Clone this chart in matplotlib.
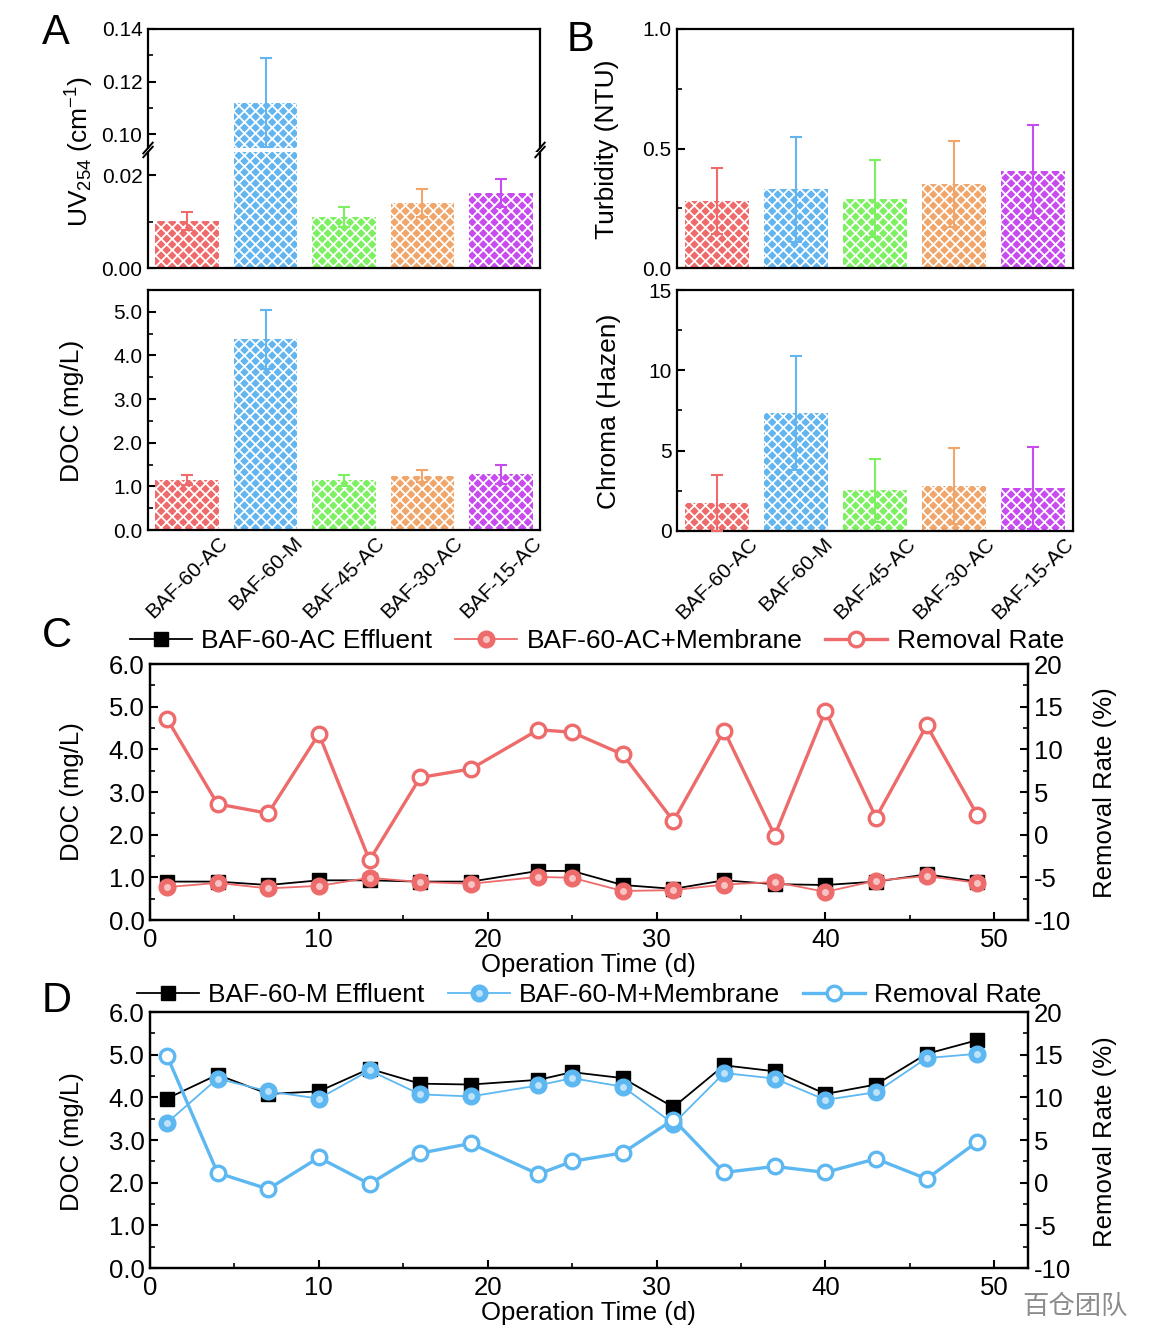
import matplotlib
matplotlib.use('Agg')
from matplotlib import pyplot as plt
from matplotlib.ticker import MultipleLocator, FormatStrFormatter
from matplotlib.legend_handler import HandlerTuple

plt.rcParams['font.family'] = ['Liberation Sans', 'DejaVu Sans']
plt.rcParams['mathtext.fontset'] = 'custom'
plt.rcParams['mathtext.rm'] = 'Liberation Sans'
plt.rcParams['mathtext.it'] = 'Liberation Sans:italic'
plt.rcParams['mathtext.default'] = 'regular'
plt.rcParams['axes.unicode_minus'] = False
plt.rcParams['hatch.linewidth'] = 1.3
plt.rcParams['axes.linewidth'] = 1.6

# ---- data ----
groups = ['BAF-60-AC', 'BAF-60-M', 'BAF-45-AC', 'BAF-30-AC', 'BAF-15-AC']
bar_colors = ['#EF6A6A', '#63B5EF', '#7CF061', '#F0A66A', '#C84BF0']

uv254 = [0.0101, 0.112, 0.011, 0.014, 0.0161]
uv254_err = [0.0019, 0.017, 0.0021, 0.003, 0.003]
doc = [1.14, 4.37, 1.14, 1.23, 1.28]
doc_err = [0.12, 0.68, 0.13, 0.14, 0.22]
turbidity = [0.28, 0.33, 0.29, 0.35, 0.405]
turbidity_err = [0.137, 0.22, 0.16, 0.18, 0.195]
chroma = [1.73, 7.35, 2.53, 2.78, 2.65]
chroma_err = [1.73, 3.55, 1.97, 2.37, 2.55]

days = [1, 4, 7, 10, 13, 16, 19, 23, 25, 28, 31, 34, 37, 40, 43, 46, 49]
ac_effluent = [0.90, 0.90, 0.82, 0.93, 0.93, 0.90, 0.90, 1.15, 1.15, 0.82, 0.73, 0.93, 0.84, 0.82, 0.90, 1.07, 0.90]
ac_membrane = [0.77, 0.87, 0.74, 0.80, 0.99, 0.89, 0.85, 1.01, 0.99, 0.68, 0.70, 0.83, 0.89, 0.66, 0.92, 1.03, 0.87]
ac_removal = [13.6, 3.6, 2.5, 11.8, -3.0, 6.7, 7.7, 12.3, 12.0, 9.4, 1.6, 12.2, -0.1, 14.5, 2.0, 12.8, 2.3]
m_effluent = [3.97, 4.53, 4.08, 4.14, 4.67, 4.32, 4.30, 4.41, 4.59, 4.45, 3.77, 4.75, 4.61, 4.08, 4.30, 5.02, 5.34]
m_membrane = [3.40, 4.44, 4.14, 3.97, 4.63, 4.07, 4.02, 4.28, 4.45, 4.25, 3.38, 4.57, 4.44, 3.94, 4.12, 4.92, 5.02]
m_removal = [14.9, 1.15, -0.75, 2.95, -0.15, 3.45, 4.6, 1.0, 2.5, 3.5, 7.4, 1.2, 1.9, 1.2, 2.8, 0.45, 4.8]

red = '#EE6B6B'
blue = '#5DB8F2'

W, H = 1158, 1338
fig = plt.figure(figsize=(W / 100, H / 100), dpi=100)


def box(x0, y0, x1, y1):
    return fig.add_axes([x0 / W, 1 - y1 / H, (x1 - x0) / W, (y1 - y0) / H])


def ftext(x, y, s, **kw):
    fig.text(x / W, 1 - y / H, s, ha='center', va='center', **kw)


def yticks(ax, major, minor, fmt, size):
    ax.yaxis.set_major_locator(MultipleLocator(major))
    ax.yaxis.set_minor_locator(MultipleLocator(minor))
    ax.yaxis.set_major_formatter(FormatStrFormatter(fmt))
    ax.tick_params(axis='y', which='major', direction='in', length=6, width=1.5, labelsize=size, pad=4)
    ax.tick_params(axis='y', which='minor', direction='in', length=3.5, width=1.2)


def bars(ax, vals, errs):
    pos = [i + 0.5 for i in range(len(groups))]
    ax.bar(pos, vals, width=0.81, color=bar_colors, edgecolor='white', linewidth=0, hatch='xxx', zorder=2)
    for p, v, e, c in zip(pos, vals, errs, bar_colors):
        ax.errorbar(p, v, yerr=e, fmt='none', ecolor=c, elinewidth=1.5, capsize=4.5, capthick=1.5, zorder=3)
    ax.set_xlim(0, 5)
    ax.set_xticks(pos)
    ax.tick_params(axis='x', length=0, pad=2)
    return pos


# ---- A: UV254 (broken axis) ----
a_up = box(148, 29, 540, 148)
a_lo = box(148, 152, 540, 268)
for ax in (a_up, a_lo):
    bars(ax, uv254, uv254_err)
    ax.set_xticklabels([])
a_up.set_ylim(0.0947, 0.14)
a_lo.set_ylim(0, 0.025)
yticks(a_up, 0.02, 0.01, '%.2f', 15)
yticks(a_lo, 0.02, 0.01, '%.2f', 15)
a_up.spines['bottom'].set_visible(False)
a_lo.spines['top'].set_visible(False)
for ax, y0 in ((a_up, 0.0), (a_lo, 1.0)):
    for xs in (0.0, 1.0):
        ax.plot([xs - 0.012, xs + 0.012], [y0 - 0.045, y0 + 0.045], transform=ax.transAxes,
                color='black', lw=1.4, clip_on=False)

# ---- A: DOC ----
a_doc = box(148, 290, 540, 530)
bars(a_doc, doc, doc_err)
a_doc.set_ylim(0, 5.5)
yticks(a_doc, 1.0, 0.5, '%.1f', 15)
a_doc.set_xticklabels(groups, rotation=45, ha='center', va='top', fontsize=15)

# ---- B: Turbidity ----
b_tu = box(677, 29, 1073, 268)
bars(b_tu, turbidity, turbidity_err)
b_tu.set_xticklabels([])
b_tu.set_ylim(0, 1.0)
yticks(b_tu, 0.5, 0.25, '%.1f', 15)

# ---- B: Chroma ----
b_ch = box(677, 290, 1073, 531)
bars(b_ch, chroma, chroma_err)
b_ch.set_ylim(0, 15)
yticks(b_ch, 5, 2.5, '%d', 15)
b_ch.set_xticklabels(groups, rotation=45, ha='center', va='top', fontsize=15)


# ---- C / D time series ----
def timeplot(y0, y1, eff, mem, rate, col, names, leg_x, leg_y):
    ax = box(150, y0, 1028, y1)
    l1, = ax.plot(days, eff, color='black', lw=1.3, marker='s', ms=10, mfc='black', mec='black', zorder=3)
    l2, = ax.plot(days, mem, color=col, lw=1.3, marker='o', ms=12, mfc=col, mec=col, zorder=4)
    l2h, = ax.plot(days, mem, ls='none', marker='o', ms=5, mfc='white', mec='none', alpha=0.6, zorder=5)
    ax.set_xlim(0, 52)
    ax.set_ylim(0, 6)
    yticks(ax, 1.0, 0.5, '%.1f', 18.5)
    ax.xaxis.set_major_locator(MultipleLocator(10))
    ax.xaxis.set_minor_locator(MultipleLocator(5))
    ax.tick_params(axis='x', which='major', direction='in', length=6, width=1.5, labelsize=18.5, pad=6)
    ax.tick_params(axis='x', which='minor', direction='in', length=3.5, width=1.2)
    ax2 = ax.twinx()
    l3, = ax2.plot(days, rate, color=col, lw=2.4, marker='o', ms=10.5, mfc='white', mec=col, mew=2.4)
    ax2.set_ylim(-10, 20)
    yticks(ax2, 5, 2.5, '%d', 18.5)
    fig.legend([l1, (l2, l2h), l3], names, handler_map={tuple: HandlerTuple(ndivide=1)},
               loc='center left', bbox_to_anchor=(leg_x / W, 1 - leg_y / H), ncol=3, frameon=False,
               borderpad=0, borderaxespad=0, handlelength=2.35, handletextpad=0.35,
               columnspacing=0.87, fontsize=19)
    return ax


timeplot(664, 920, ac_effluent, ac_membrane, ac_removal, red,
         ['BAF-60-AC Effluent', 'BAF-60-AC+Membrane', 'Removal Rate'], 130, 641)
timeplot(1012, 1268, m_effluent, m_membrane, m_removal, blue,
         ['BAF-60-M Effluent', 'BAF-60-M+Membrane', 'Removal Rate'], 137, 995)

# ---- labels ----
ftext(80, 152, r'UV$_{254}$ (cm$^{-1}$)', rotation=90, fontsize=19)
ftext(72, 411, 'DOC (mg/L)', rotation=90, fontsize=19)
ftext(607, 149, 'Turbidity (NTU)', rotation=90, fontsize=19)
ftext(609, 411, 'Chroma (Hazen)', rotation=90, fontsize=19)
ftext(72, 792, 'DOC (mg/L)', rotation=90, fontsize=18.5)
ftext(1105, 793, 'Removal Rate (%)', rotation=90, fontsize=18.5)
ftext(588, 965, 'Operation Time (d)', fontsize=18.5)
ftext(72, 1142, 'DOC (mg/L)', rotation=90, fontsize=18.5)
ftext(1105, 1142, 'Removal Rate (%)', rotation=90, fontsize=18.5)
ftext(588, 1313, 'Operation Time (d)', fontsize=18.5)

for s, x, y in (('A', 56, 33), ('B', 580, 40), ('C', 57, 636), ('D', 57, 1001)):
    ftext(x, y, s, fontsize=30)

ftext(1075, 1306, '百仓团队', fontsize=19, color='#8c8c8c',
      family=['Noto Sans CJK SC', 'DejaVu Sans'])

fig.savefig('out.png', dpi=100)
